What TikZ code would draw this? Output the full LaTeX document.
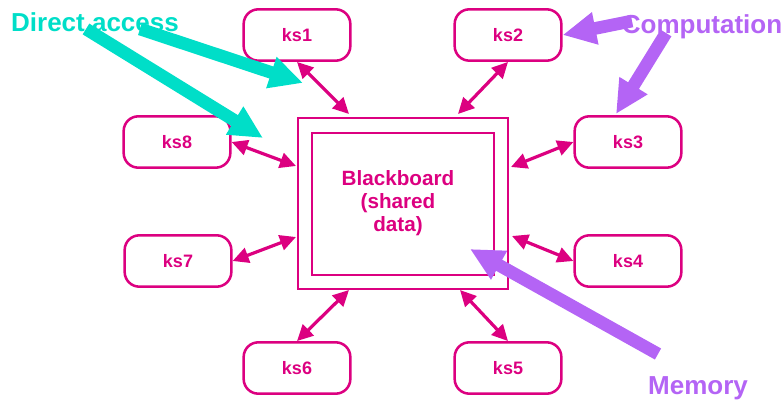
\documentclass[tikz,border=0pt]{standalone}
\usepackage{fontspec}
\setmainfont{Liberation Sans}
\usetikzlibrary{arrows.meta}
\definecolor{bbpink}{RGB}{220,0,128}
\definecolor{bbcyan}{RGB}{0,222,200}
\definecolor{bbviolet}{RGB}{180,100,245}

\begin{document}
\begin{tikzpicture}[x=0.75pt,y=-0.75pt,
    ks node/.style={draw=bbpink,line width=1.9pt,rounded corners=11pt,minimum width=80pt,minimum height=38.5pt,text=bbpink,font=\bfseries\fontsize{13.5}{16}\selectfont},
    board/.style={draw=bbpink,line width=1.9pt,inner sep=0pt},
    link/.style={draw=bbpink,line width=2.4pt,{Triangle[length=12pt,width=11.5pt]}-{Triangle[length=12pt,width=11.5pt]}},
    hint/.style={line width=9.5pt,-{Triangle[length=25pt,width=23pt]}},
    tag/.style={font=\bfseries\fontsize{19.5}{22}\selectfont}]
    \useasboundingbox (0,0) rectangle (784,402);

    % the shared board
    \node[board,minimum width=157.5pt,minimum height=128pt] (bb) at (403,203.5) {};
    \node[board,minimum width=136.5pt,minimum height=106.5pt] (bbin) at (403,204) {};
    \node[text=bbpink,align=center,font=\bfseries\fontsize{15.5}{17}\selectfont] (bbtext) at (398,203) {Blackboard\\(shared\\data)};

    % knowledge sources
    \node[ks node] (ks1) at (297,35) {ks1};
    \node[ks node] (ks2) at (508,35) {ks2};
    \node[ks node] (ks8) at (177,142) {ks8};
    \node[ks node] (ks3) at (628,142) {ks3};
    \node[ks node] (ks7) at (178,261) {ks7};
    \node[ks node] (ks4) at (628,261) {ks4};
    \node[ks node] (ks6) at (297,368) {ks6};
    \node[ks node] (ks5) at (508,368) {ks5};

    % ends on the board
    \coordinate (b1) at (349,114);
    \coordinate (b2) at (458,114);
    \coordinate (b8) at (296,166);
    \coordinate (b3) at (511,167);
    \coordinate (b7) at (296,237);
    \coordinate (b4) at (512,236);
    \coordinate (b6) at (349,290);
    \coordinate (b5) at (460,290);

    \path
        (ks1.south) edge[link] (b1)
        (ks2.south) edge[link] (b2)
        (ks8.east) edge[link] (b8)
        (ks3.west) edge[link] (b3)
        (ks7.east) edge[link] (b7)
        (ks4.west) edge[link] (b4)
        (ks6.north) edge[link] (b6)
        (ks5.north) edge[link] (b5);

    % notes
    \node[tag,text=bbcyan] (da) at (95,22) {Direct access};
    \node[tag,text=bbviolet] (cp) at (702,27) {Computation};
    \node[tag,text=bbviolet] (mm) at (698,388) {Memory};

    \coordinate (da1) at (140,29);
    \coordinate (da2) at (86,29);
    \coordinate (h1) at (303,83);
    \coordinate (h8) at (263,138);
    \coordinate (cp1) at (632,21);
    \coordinate (cp2) at (666,33);
    \coordinate (h3) at (616,114);
    \coordinate (mm1) at (658,354);
    \coordinate (hb) at (470,249);

    \draw[hint,bbcyan] (da1) -- (h1);
    \draw[hint,bbcyan] (da2) -- (h8);
    \draw[hint,bbviolet] (cp1) -- (ks2.east);
    \draw[hint,bbviolet] (cp2) -- (h3);
    \draw[hint,bbviolet] (mm1) -- (hb);
\end{tikzpicture}
\end{document}
